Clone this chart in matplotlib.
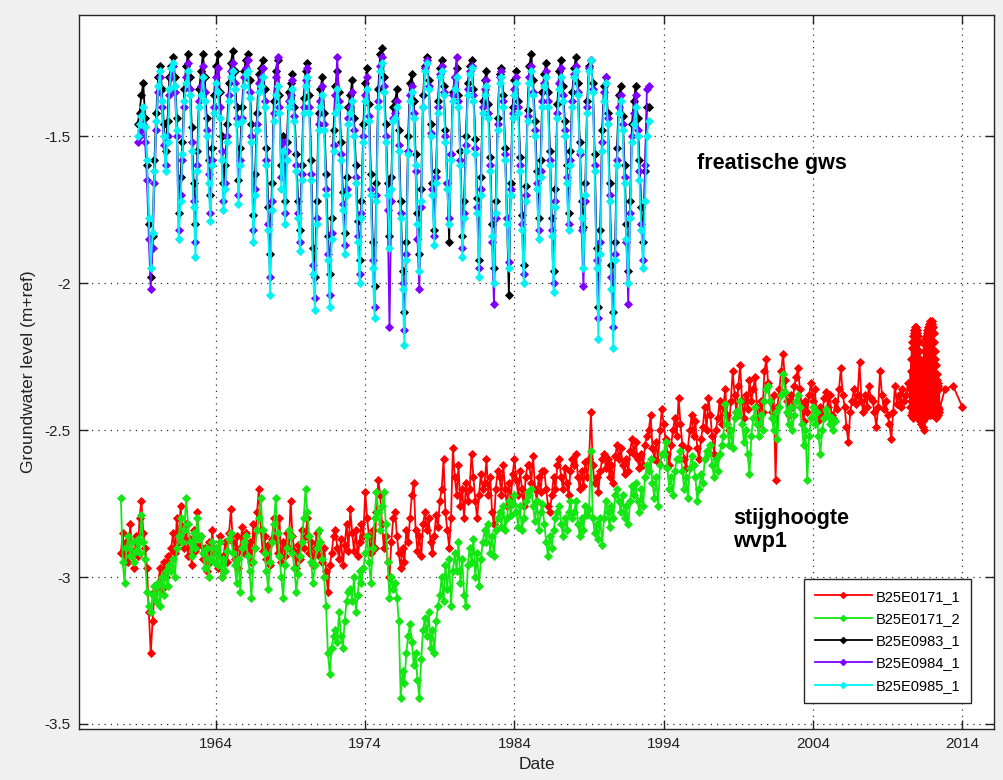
import numpy as np
import matplotlib.pyplot as plt

plt.rcParams['font.family'] = ['Liberation Sans', 'DejaVu Sans']

# readings are stored eight per year (Jan, Feb, Apr, May, Jul, Aug, Oct, Nov)
step = 1 / 8

# --- phreatic wells, from Oct 1958 ---
phreatic_start = 1958.75

b0983_1 = np.concatenate([
    [-1.46, -1.42],
    [-1.36, -1.32, -1.44, -1.60, -1.80, -1.98, -1.84, -1.58],  # 1959
    [-1.42, -1.30, -1.26, -1.34, -1.46, -1.55, -1.45, -1.30],
    [-1.26, -1.23, -1.30, -1.44, -1.76, -1.64, -1.52, -1.34],
    [-1.26, -1.22, -1.30, -1.47, -1.66, -1.80, -1.55, -1.34],
    [-1.28, -1.22, -1.30, -1.44, -1.58, -1.70, -1.54, -1.36],
    [-1.26, -1.22, -1.35, -1.50, -1.66, -1.60, -1.46, -1.32],
    [-1.25, -1.21, -1.28, -1.40, -1.65, -1.54, -1.40, -1.28],
    [-1.24, -1.22, -1.31, -1.46, -1.77, -1.63, -1.42, -1.29],
    [-1.27, -1.24, -1.34, -1.54, -1.74, -1.90, -1.66, -1.38],
    [-1.28, -1.24, -1.36, -1.60, -1.50, -1.72, -1.52, -1.35],
    [-1.32, -1.29, -1.40, -1.56, -1.72, -1.82, -1.60, -1.37],  # 1969
    [-1.28, -1.25, -1.36, -1.58, -1.88, -1.98, -1.72, -1.42],
    [-1.34, -1.30, -1.42, -1.63, -1.84, -1.97, -1.78, -1.48],
    [-1.33, -1.28, -1.35, -1.52, -1.69, -1.83, -1.64, -1.40],
    [-1.36, -1.31, -1.44, -1.60, -1.79, -1.92, -1.72, -1.46],
    [-1.32, -1.27, -1.39, -1.63, -1.86, -2.01, -1.66, -1.34],
    [-1.22, -1.20, -1.30, -1.46, -1.66, -1.84, -1.64, -1.40],
    [-1.38, -1.34, -1.48, -1.72, -1.96, -2.10, -1.86, -1.50],
    [-1.32, -1.29, -1.38, -1.56, -1.76, -1.90, -1.68, -1.36],
    [-1.26, -1.23, -1.31, -1.46, -1.66, -1.82, -1.62, -1.38],
    [-1.27, -1.24, -1.33, -1.48, -1.66, -1.86, -1.56, -1.35],  # 1979
    [-1.30, -1.27, -1.36, -1.55, -1.84, -1.72, -1.50, -1.32],
    [-1.26, -1.24, -1.34, -1.51, -1.71, -1.92, -1.64, -1.38],
    [-1.31, -1.28, -1.39, -1.57, -1.80, -1.95, -1.72, -1.44],
    [-1.29, -1.27, -1.36, -1.54, -1.78, -2.04, -1.66, -1.40],
    [-1.31, -1.28, -1.38, -1.57, -1.77, -1.94, -1.67, -1.41],
    [-1.26, -1.22, -1.31, -1.45, -1.62, -1.78, -1.58, -1.35],
    [-1.29, -1.25, -1.35, -1.55, -1.78, -1.96, -1.68, -1.39],
    [-1.28, -1.24, -1.33, -1.45, -1.60, -1.76, -1.55, -1.35],
    [-1.27, -1.23, -1.32, -1.52, -1.72, -1.81, -1.66, -1.38],
    [-1.26, -1.24, -1.32, -1.56, -1.88, -2.08, -1.82, -1.48],  # 1989
    [-1.33, -1.30, -1.42, -1.66, -1.94, -2.10, -1.86, -1.54],
    [-1.36, -1.33, -1.43, -1.60, -1.80, -1.96, -1.72, -1.46],
    [-1.38, -1.33, -1.44, -1.58, -1.74, -1.86, -1.62, -1.40],
    [-1.40],
])

b0984_1 = np.concatenate([
    [-1.52, -1.50],
    [-1.48, -1.46, -1.52, -1.65, -1.85, -2.02, -1.88, -1.66],  # 1959
    [-1.48, -1.35, -1.30, -1.40, -1.53, -1.60, -1.50, -1.36],
    [-1.30, -1.26, -1.35, -1.50, -1.82, -1.70, -1.58, -1.40],
    [-1.30, -1.25, -1.34, -1.52, -1.72, -1.86, -1.60, -1.38],
    [-1.33, -1.26, -1.35, -1.48, -1.63, -1.76, -1.58, -1.40],
    [-1.30, -1.27, -1.40, -1.55, -1.72, -1.66, -1.50, -1.36],
    [-1.28, -1.25, -1.32, -1.44, -1.70, -1.58, -1.44, -1.30],
    [-1.27, -1.24, -1.35, -1.50, -1.82, -1.68, -1.46, -1.32],
    [-1.30, -1.27, -1.38, -1.58, -1.80, -1.98, -1.72, -1.42],
    [-1.30, -1.23, -1.40, -1.64, -1.52, -1.76, -1.55, -1.38],
    [-1.36, -1.31, -1.43, -1.60, -1.76, -1.86, -1.63, -1.40],  # 1969
    [-1.31, -1.27, -1.40, -1.63, -1.94, -2.05, -1.78, -1.46],
    [-1.38, -1.33, -1.46, -1.68, -1.90, -2.04, -1.83, -1.53],
    [-1.36, -1.23, -1.38, -1.56, -1.73, -1.87, -1.68, -1.44],
    [-1.40, -1.35, -1.48, -1.64, -1.84, -1.97, -1.76, -1.50],
    [-1.36, -1.30, -1.43, -1.68, -1.92, -2.08, -1.70, -1.38],
    [-1.26, -1.23, -1.33, -1.50, -1.75, -2.15, -1.72, -1.44],
    [-1.42, -1.38, -1.53, -1.76, -2.00, -2.16, -1.90, -1.55],
    [-1.36, -1.33, -1.42, -1.62, -1.85, -2.02, -1.74, -1.40],
    [-1.27, -1.24, -1.33, -1.49, -1.68, -1.84, -1.64, -1.40],
    [-1.29, -1.26, -1.35, -1.50, -1.66, -1.78, -1.56, -1.36],  # 1979
    [-1.30, -1.23, -1.38, -1.58, -1.88, -1.76, -1.53, -1.34],
    [-1.28, -1.26, -1.36, -1.54, -1.74, -1.95, -1.68, -1.40],
    [-1.34, -1.31, -1.42, -1.60, -1.86, -2.07, -1.78, -1.46],
    [-1.30, -1.28, -1.38, -1.56, -1.78, -1.93, -1.68, -1.42],
    [-1.34, -1.30, -1.40, -1.60, -1.80, -1.97, -1.70, -1.43],
    [-1.30, -1.26, -1.35, -1.48, -1.66, -1.82, -1.62, -1.38],
    [-1.32, -1.28, -1.38, -1.58, -1.82, -2.00, -1.72, -1.42],
    [-1.32, -1.27, -1.36, -1.48, -1.64, -1.80, -1.58, -1.38],
    [-1.29, -1.26, -1.35, -1.56, -1.82, -2.01, -1.72, -1.40],
    [-1.27, -1.24, -1.34, -1.60, -1.92, -2.12, -1.86, -1.52],  # 1989
    [-1.35, -1.30, -1.44, -1.70, -1.98, -2.15, -1.90, -1.58],
    [-1.40, -1.36, -1.46, -1.64, -1.86, -2.07, -1.76, -1.50],
    [-1.42, -1.36, -1.48, -1.62, -1.80, -1.92, -1.60, -1.34],
    [-1.33],
])

b0985_1 = np.concatenate([
    [-1.50, -1.46],
    [-1.43, -1.40, -1.47, -1.58, -1.78, -1.95, -1.83, -1.62],  # 1959
    [-1.45, -1.33, -1.28, -1.38, -1.50, -1.62, -1.52, -1.34],
    [-1.27, -1.25, -1.33, -1.48, -1.85, -1.72, -1.56, -1.38],
    [-1.32, -1.28, -1.36, -1.55, -1.74, -1.91, -1.62, -1.40],
    [-1.36, -1.30, -1.38, -1.50, -1.66, -1.79, -1.60, -1.42],
    [-1.32, -1.35, -1.44, -1.58, -1.75, -1.68, -1.52, -1.38],
    [-1.30, -1.28, -1.34, -1.46, -1.73, -1.60, -1.45, -1.33],
    [-1.29, -1.28, -1.37, -1.52, -1.86, -1.70, -1.48, -1.35],
    [-1.33, -1.30, -1.40, -1.60, -1.82, -2.04, -1.75, -1.45],
    [-1.36, -1.33, -1.42, -1.68, -1.55, -1.80, -1.58, -1.40],
    [-1.38, -1.34, -1.45, -1.62, -1.78, -1.89, -1.65, -1.42],  # 1969
    [-1.33, -1.30, -1.42, -1.65, -1.97, -2.09, -1.80, -1.48],
    [-1.40, -1.36, -1.48, -1.70, -1.92, -2.08, -1.85, -1.55],
    [-1.42, -1.34, -1.40, -1.58, -1.75, -1.90, -1.70, -1.46],
    [-1.42, -1.38, -1.50, -1.66, -1.86, -2.00, -1.78, -1.52],
    [-1.38, -1.34, -1.45, -1.70, -1.95, -2.12, -1.72, -1.40],
    [-1.28, -1.25, -1.35, -1.52, -1.70, -1.88, -1.68, -1.45],
    [-1.44, -1.40, -1.55, -1.78, -2.02, -2.21, -1.92, -1.56],
    [-1.38, -1.35, -1.44, -1.60, -1.80, -1.96, -1.72, -1.40],
    [-1.28, -1.25, -1.34, -1.50, -1.70, -1.87, -1.66, -1.42],
    [-1.30, -1.28, -1.36, -1.52, -1.68, -1.80, -1.58, -1.38],  # 1979
    [-1.34, -1.30, -1.40, -1.60, -1.91, -1.78, -1.55, -1.36],
    [-1.29, -1.27, -1.38, -1.56, -1.76, -1.98, -1.70, -1.42],
    [-1.36, -1.33, -1.44, -1.62, -1.84, -2.00, -1.76, -1.48],
    [-1.32, -1.30, -1.40, -1.58, -1.80, -1.95, -1.70, -1.44],
    [-1.36, -1.32, -1.42, -1.62, -1.82, -2.00, -1.72, -1.45],
    [-1.32, -1.28, -1.36, -1.50, -1.68, -1.85, -1.64, -1.40],
    [-1.33, -1.30, -1.40, -1.60, -1.84, -2.03, -1.74, -1.44],
    [-1.34, -1.30, -1.38, -1.50, -1.66, -1.82, -1.60, -1.40],
    [-1.30, -1.28, -1.36, -1.55, -1.78, -1.95, -1.70, -1.42],
    [-1.28, -1.24, -1.35, -1.62, -1.95, -2.19, -1.90, -1.55],  # 1989
    [-1.38, -1.32, -1.46, -1.72, -2.02, -2.22, -1.92, -1.60],
    [-1.42, -1.38, -1.48, -1.66, -1.85, -2.00, -1.78, -1.52],
    [-1.46, -1.40, -1.50, -1.65, -1.82, -1.95, -1.72, -1.50],
    [-1.45],
])

# --- first aquifer (wvp1), from Aug 1957 ---
deep_start = 1957.625

b0171_1 = np.concatenate([
    [-2.92, -2.85, -2.95],
    [-2.88, -2.95, -2.82, -2.91, -2.97, -2.86, -2.93, -2.80],  # 1958
    [-2.74, -2.85, -2.90, -2.97, -3.12, -3.26, -3.15, -3.05],
    [-3.08, -3.02, -2.97, -3.04, -2.95, -3.00, -2.93, -2.96],
    [-2.90, -2.85, -2.92, -2.80, -2.88, -2.76, -2.84, -2.90],
    [-2.82, -2.93, -2.87, -2.96, -2.84, -2.91, -2.78, -2.89],
    [-2.86, -2.94, -2.90, -2.98, -2.88, -2.95, -2.84, -2.92],
    [-2.90, -2.97, -2.86, -3.00, -2.93, -2.88, -2.95, -2.85],
    [-2.77, -2.88, -2.94, -2.86, -2.97, -2.90, -2.83, -2.92],
    [-2.85, -2.92, -2.88, -2.95, -2.82, -2.90, -2.78, -2.70],
    [-2.84, -2.91, -2.86, -2.94, -2.89, -2.96, -2.87, -2.80],
    [-2.86, -2.92, -2.80, -2.95, -2.88, -2.93, -2.85, -2.90],  # 1968
    [-2.74, -2.86, -2.91, -2.97, -2.89, -2.94, -2.84, -2.90],
    [-2.86, -2.80, -2.92, -2.88, -2.96, -2.90, -2.85, -2.93],
    [-2.88, -2.95, -2.90, -2.98, -3.05, -2.96, -2.92, -2.86],
    [-2.84, -2.90, -2.94, -2.87, -2.96, -2.89, -2.82, -2.91],
    [-2.77, -2.85, -2.91, -2.84, -2.93, -2.88, -2.82, -2.86],
    [-2.71, -2.80, -2.86, -2.92, -2.84, -2.90, -2.78, -2.67],
    [-2.72, -2.82, -2.90, -2.86, -2.95, -3.00, -2.88, -2.80],
    [-2.78, -2.86, -2.92, -2.97, -2.90, -2.95, -2.84, -2.88],
    [-2.80, -2.72, -2.68, -2.84, -2.91, -2.86, -2.93, -2.82],
    [-2.78, -2.84, -2.80, -2.88, -2.92, -2.86, -2.79, -2.83],  # 1978
    [-2.74, -2.70, -2.60, -2.78, -2.84, -2.90, -2.80, -2.56],
    [-2.66, -2.72, -2.62, -2.76, -2.70, -2.80, -2.68, -2.74],
    [-2.70, -2.58, -2.66, -2.74, -2.80, -2.72, -2.65, -2.70],
    [-2.68, -2.60, -2.72, -2.66, -2.78, -2.82, -2.70, -2.64],
    [-2.66, -2.72, -2.62, -2.70, -2.76, -2.68, -2.74, -2.65],
    [-2.60, -2.67, -2.72, -2.64, -2.70, -2.76, -2.66, -2.62],
    [-2.62, -2.68, -2.59, -2.70, -2.74, -2.66, -2.71, -2.64],
    [-2.64, -2.70, -2.76, -2.78, -2.72, -2.66, -2.70, -2.62],
    [-2.60, -2.66, -2.70, -2.63, -2.68, -2.72, -2.64, -2.60],
    [-2.62, -2.58, -2.66, -2.70, -2.64, -2.69, -2.61, -2.66],  # 1988
    [-2.60, -2.44, -2.62, -2.68, -2.66, -2.71, -2.64, -2.60],
    [-2.58, -2.63, -2.60, -2.66, -2.62, -2.68, -2.59, -2.55],
    [-2.60, -2.56, -2.62, -2.65, -2.60, -2.64, -2.57, -2.53],
    [-2.58, -2.54, -2.60, -2.63, -2.58, -2.62, -2.55, -2.52],
    [-2.50, -2.45, -2.56, -2.60, -2.54, -2.61, -2.50, -2.43],
    [-2.48, -2.53, -2.58, -2.62, -2.55, -2.50, -2.46, -2.52],
    [-2.39, -2.48, -2.55, -2.60, -2.63, -2.56, -2.50, -2.45],
    [-2.52, -2.47, -2.56, -2.60, -2.53, -2.49, -2.42, -2.50],
    [-2.39, -2.45, -2.52, -2.58, -2.50, -2.46, -2.40, -2.48],
    [-2.42, -2.36, -2.45, -2.50, -2.40, -2.30, -2.38, -2.44],  # 1998
    [-2.35, -2.28, -2.40, -2.46, -2.38, -2.43, -2.33, -2.40],
    [-2.36, -2.32, -2.42, -2.48, -2.40, -2.44, -2.30, -2.26],
    [-2.34, -2.40, -2.44, -2.38, -2.67, -2.42, -2.36, -2.30],
    [-2.24, -2.33, -2.40, -2.45, -2.38, -2.42, -2.35, -2.32],
    [-2.29, -2.36, -2.42, -2.47, -2.40, -2.44, -2.38, -2.34],
    [-2.40, -2.36, -2.44, -2.47, -2.42, -2.45, -2.39, -2.37],
    [-2.42, -2.38, -2.45, -2.46, -2.40, -2.43, -2.36, -2.29],
    [-2.38, -2.42, -2.49, -2.54, -2.44, -2.40, -2.36, -2.41],
    [-2.38, -2.27, -2.40, -2.44, -2.38, -2.42, -2.35, -2.39],
    [-2.40, -2.44, -2.49, -2.42, -2.30, -2.38, -2.43, -2.40],  # 2008
    [-2.45, -2.48, -2.53, -2.44, -2.35, -2.41, -2.38, -2.42],
    [-2.36, -2.40, -2.38, -2.34],
])

# logger period mid-2010 to mid-2012: daily swings, stored as high/low pairs
logger_start = 2010.5
logger_step = 1 / 48
logger_high = [-2.36, -2.30, -2.26, -2.22, -2.20, -2.18, -2.17, -2.16, -2.15, -2.16, -2.15, -2.17,
               -2.16, -2.18, -2.20, -2.23, -2.26, -2.29, -2.31, -2.33, -2.30, -2.28, -2.26, -2.23,
               -2.21, -2.19, -2.18, -2.16, -2.17, -2.15, -2.16, -2.14, -2.15, -2.13, -2.15, -2.14,
               -2.13, -2.15, -2.17, -2.20, -2.23, -2.26, -2.28, -2.31, -2.33, -2.35, -2.34, -2.36]
logger_low = [-2.42, -2.45, -2.40, -2.44, -2.41, -2.46, -2.43, -2.40, -2.44, -2.42, -2.45, -2.41,
              -2.43, -2.46, -2.44, -2.47, -2.45, -2.48, -2.46, -2.44, -2.49, -2.47, -2.50, -2.46,
              -2.44, -2.42, -2.45, -2.41, -2.43, -2.40, -2.44, -2.42, -2.45, -2.41, -2.43, -2.40,
              -2.42, -2.45, -2.41, -2.44, -2.42, -2.46, -2.43, -2.41, -2.45, -2.42, -2.44, -2.43]

tail_dates = [2012.85, 2013.4, 2014.0]
tail_levels = [-2.36, -2.35, -2.42]

b0171_2 = np.concatenate([
    [-2.73, -2.95, -3.02],
    [-2.90, -2.86, -2.93, -2.88, -2.95, -2.91, -2.87, -2.92],  # 1958
    [-2.79, -2.88, -2.94, -3.05, -3.10, -3.12, -3.06, -3.03],
    [-3.08, -3.02, -3.10, -3.00, -3.06, -2.98, -3.03, -2.96],
    [-2.98, -2.94, -3.00, -2.90, -2.86, -2.80, -2.88, -2.84],
    [-2.73, -2.82, -2.88, -2.93, -2.85, -2.90, -2.80, -2.87],
    [-2.86, -2.92, -2.97, -2.90, -3.00, -2.94, -2.88, -2.95],
    [-2.90, -2.96, -2.88, -3.00, -2.94, -2.98, -2.91, -2.87],
    [-2.85, -2.92, -2.96, -3.02, -2.94, -3.05, -2.90, -2.88],
    [-2.86, -2.93, -2.98, -3.07, -2.95, -2.90, -2.84, -2.80],
    [-2.73, -2.84, -2.92, -2.98, -3.04, -2.95, -2.88, -2.82],
    [-2.73, -2.85, -2.93, -3.00, -3.07, -2.96, -2.90, -2.84],  # 1968
    [-2.86, -2.92, -2.97, -3.05, -2.99, -2.93, -2.88, -2.80],
    [-2.70, -2.78, -2.86, -2.95, -3.02, -2.96, -2.90, -2.84],
    [-2.88, -2.94, -3.00, -3.10, -3.26, -3.33, -3.24, -3.20],
    [-3.18, -3.22, -3.12, -3.20, -3.24, -3.15, -3.08, -3.05],
    [-3.04, -3.08, -3.00, -3.12, -3.06, -2.98, -3.02, -2.97],
    [-2.92, -2.86, -2.95, -3.02, -2.90, -2.80, -2.71, -2.78],
    [-2.84, -2.76, -2.71, -2.82, -2.95, -3.07, -3.00, -3.04],
    [-3.02, -3.07, -3.15, -3.41, -3.32, -3.36, -3.26, -3.20],
    [-3.16, -3.22, -3.30, -3.26, -3.35, -3.41, -3.28, -3.18],
    [-3.14, -3.20, -3.12, -3.24, -3.18, -3.26, -3.15, -3.10],  # 1978
    [-3.06, -3.00, -3.08, -2.96, -3.04, -2.94, -3.10, -2.98],
    [-2.92, -2.98, -2.88, -3.02, -2.94, -3.06, -3.10, -2.96],
    [-2.90, -2.95, -2.87, -3.00, -2.92, -3.03, -2.94, -2.88],
    [-2.84, -2.88, -2.82, -2.92, -2.86, -2.93, -2.84, -2.80],
    [-2.78, -2.83, -2.76, -2.84, -2.80, -2.74, -2.79, -2.75],
    [-2.72, -2.78, -2.83, -2.76, -2.84, -2.80, -2.74, -2.71],
    [-2.72, -2.70, -2.76, -2.81, -2.74, -2.84, -2.78, -2.75],
    [-2.82, -2.88, -2.93, -2.86, -2.90, -2.84, -2.80, -2.78],
    [-2.76, -2.82, -2.86, -2.80, -2.84, -2.78, -2.74, -2.80],
    [-2.78, -2.74, -2.82, -2.86, -2.80, -2.84, -2.76, -2.79],  # 1988
    [-2.77, -2.57, -2.80, -2.85, -2.82, -2.87, -2.80, -2.89],
    [-2.80, -2.74, -2.78, -2.83, -2.76, -2.80, -2.72, -2.70],
    [-2.74, -2.78, -2.72, -2.80, -2.76, -2.82, -2.74, -2.69],
    [-2.72, -2.68, -2.74, -2.78, -2.70, -2.76, -2.66, -2.62],
    [-2.64, -2.60, -2.68, -2.73, -2.66, -2.76, -2.62, -2.58],
    [-2.58, -2.54, -2.63, -2.70, -2.66, -2.72, -2.64, -2.60],
    [-2.60, -2.57, -2.64, -2.70, -2.66, -2.73, -2.63, -2.59],
    [-2.62, -2.66, -2.74, -2.70, -2.65, -2.68, -2.60, -2.57],
    [-2.58, -2.55, -2.62, -2.66, -2.60, -2.64, -2.58, -2.55],
    [-2.52, -2.41, -2.48, -2.55, -2.50, -2.56, -2.46, -2.44],  # 1998
    [-2.45, -2.40, -2.48, -2.54, -2.50, -2.58, -2.65, -2.52],
    [-2.46, -2.42, -2.48, -2.52, -2.45, -2.50, -2.40, -2.36],
    [-2.35, -2.40, -2.46, -2.50, -2.44, -2.53, -2.42, -2.38],
    [-2.31, -2.37, -2.44, -2.48, -2.42, -2.50, -2.45, -2.40],
    [-2.38, -2.42, -2.48, -2.55, -2.50, -2.67, -2.52, -2.46],
    [-2.42, -2.48, -2.44, -2.52, -2.58, -2.50, -2.46, -2.43],
    [-2.45, -2.48, -2.46, -2.50, -2.47],
])

series_names = ['B25E0171_1', 'B25E0171_2', 'B25E0983_1', 'B25E0984_1', 'B25E0985_1']
series_colors = ['#ff0000', '#14e614', '#000000', '#7f00ff', '#00f2f2']

year_ticks = [1964, 1974, 1984, 1994, 2004, 2014]
level_ticks = [-3.5, -3.0, -2.5, -2.0, -1.5]
level_labels = ['-3.5', '-3', '-2.5', '-2', '-1.5']

# build date axes
phreatic_dates = phreatic_start + step * np.arange(len(b0983_1))
red_regular = deep_start + step * np.arange(len(b0171_1))
logger_dates = logger_start + logger_step * np.arange(2 * len(logger_high))
logger_levels = np.column_stack([logger_high, logger_low]).ravel()
red_dates = np.concatenate([red_regular, logger_dates, tail_dates])
red_levels = np.concatenate([b0171_1, logger_levels, tail_levels])
green_dates = deep_start + step * np.arange(len(b0171_2))

fig = plt.figure(figsize=(10.04, 7.80), dpi=100, facecolor='#f0f0f0')
ax = fig.add_axes([0.0787, 0.0654, 0.9114, 0.9154])

style = dict(lw=1.3, marker='D', ms=4.5, mew=0.6)
ax.plot(red_dates, red_levels, color=series_colors[0], label=series_names[0], **style)
ax.plot(green_dates, b0171_2, color=series_colors[1], label=series_names[1], **style)
ax.plot(phreatic_dates, b0983_1, color=series_colors[2], label=series_names[2], **style)
ax.plot(phreatic_dates, b0984_1, color=series_colors[3], label=series_names[3], **style)
ax.plot(phreatic_dates, b0985_1, color=series_colors[4], label=series_names[4], **style)

ax.set_xlim(1954.82, 2016.14)
ax.set_ylim(-3.517, -1.088)
ax.set_xticks(year_ticks)
ax.set_xticklabels([str(y) for y in year_ticks])
ax.set_yticks(level_ticks)
ax.set_yticklabels(level_labels)
ax.grid(True, color='#303030', linestyle=(0, (1, 4)), linewidth=0.9)
ax.tick_params(direction='in', length=6.5, width=1, top=True, right=True,
               labelsize=11, colors='#222222', pad=6)
for s in ax.spines.values():
    s.set_color('#262626')
    s.set_linewidth(1.0)

ax.set_xlabel('Date', fontsize=12.5, color='#222222', labelpad=4)
ax.set_ylabel('Groundwater level (m+ref)', fontsize=12.5, color='#222222', labelpad=6)

ax.text(1996.24, -1.592, 'freatische gws', fontsize=15.5, fontweight='bold',
        ha='left', va='center')
ax.text(1998.65, -2.84, 'stijghoogte\nwvp1', fontsize=15.5, fontweight='bold',
        ha='left', va='center', linespacing=1.15)

leg = ax.legend(loc='lower right', bbox_to_anchor=(0.975, 0.036), borderaxespad=0,
                fontsize=10.5, numpoints=1, fancybox=False, framealpha=1,
                edgecolor='#262626', handlelength=3.9, handletextpad=0.3,
                labelspacing=0.57, borderpad=0.72, markerscale=0.75)
leg.get_frame().set_linewidth(1.0)

fig.savefig('out.png', dpi=100, facecolor=fig.get_facecolor())
